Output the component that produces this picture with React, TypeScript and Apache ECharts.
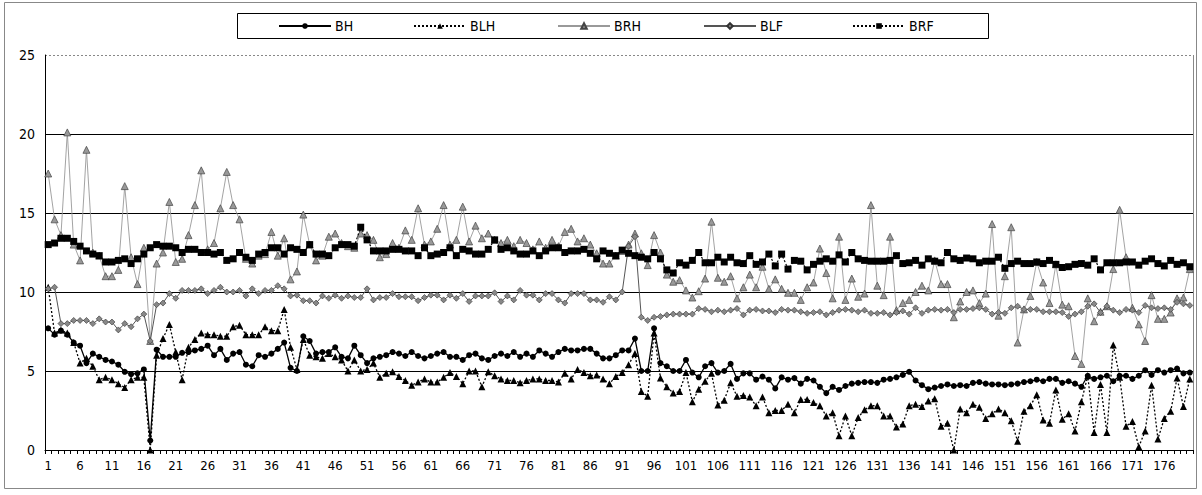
import React, { useEffect, useRef } from "react";
import * as echarts from "echarts";

const categories: string[] = Array.from({ length: 180 }, (_, i) => String(i + 1));
const yTicks = [0, 5, 10, 15, 20, 25];
const seriesNames = ["BH", "BLH", "BRH", "BLF", "BRF"];

const BH = [
  7.7, 7.3, 7.55, 7.3, 6.8, 6.6, 5.5, 6.1, 5.9, 5.7, 5.6, 5.4, 4.95, 4.8, 4.85, 5.1, 0.6, 6.35, 5.9, 5.9,
  5.9, 6.15, 6.2, 6.3, 6.4, 6.6, 6.0, 6.4, 5.7, 6.1, 6.2,
  5.4, 5.3, 6.0, 5.9, 6.1, 6.4, 6.8, 5.2, 5.0, 7.2, 6.9, 6.1, 6.2, 6.2, 6.5, 5.9, 5.8, 6.6, 6.0,
  5.5, 5.8, 5.9, 6.0, 6.2, 6.1, 5.95, 6.2, 5.95, 5.8, 5.95, 6.1, 6.2, 5.9, 5.9, 5.7, 6.0,
  6.1, 5.8, 5.7, 5.95, 6.1, 5.95, 6.2, 5.9, 6.1, 5.9, 6.3, 6.1, 5.9, 6.2, 6.4, 6.3, 6.3, 6.4, 6.4,
  6.1, 5.8, 5.8, 6.0, 6.3, 6.3, 7.05, 5.0, 5.0, 7.7, 5.5, 5.3, 5.0, 5.0, 5.7,
  4.9, 4.6, 5.3, 5.5, 4.9, 5.0, 5.45, 4.5, 4.85, 4.85, 4.45, 4.65, 4.45, 3.9, 4.6, 4.45, 4.55, 4.2,
  4.5, 4.4, 4.0, 3.6, 4.0, 3.8, 4.05, 4.2, 4.25, 4.3, 4.3, 4.25, 4.45, 4.5, 4.6, 4.75, 4.95, 4.4,
  4.1, 3.85, 3.95, 4.05, 4.15, 4.05, 4.1, 4.05, 4.25, 4.3, 4.2, 4.15, 4.15, 4.1, 4.15, 4.2, 4.3,
  4.35, 4.45, 4.35, 4.5, 4.5, 4.25, 4.35, 4.2, 4.0, 4.7, 4.5, 4.6, 4.7, 4.35, 4.7, 4.7, 4.5,
  4.7, 5.05, 4.75, 5.05, 4.9, 5.05, 5.15, 4.85, 4.9,
];

const BLH = [
  10.3, 7.4, 7.6, 7.4, 6.8, 5.5, 5.8, 5.3, 4.45, 4.6, 4.45, 4.2, 3.95, 4.45, 4.6, 4.6, 0.0, 6.0, 7.05,
  7.95, 6.2, 4.45, 6.5, 7.0, 7.4, 7.3, 7.3, 7.2, 7.2, 7.8, 7.9,
  7.3, 7.3, 7.3, 7.8, 7.55, 7.55, 8.9, 6.5, 5.1, 7.0, 6.0, 5.9, 5.8, 6.1, 5.9, 5.7, 5.0, 5.7, 5.0,
  5.1, 5.5, 4.6, 4.85, 4.95, 4.65, 4.4, 4.1, 4.3, 4.5, 4.3, 4.3, 4.6, 4.9, 4.65, 4.2, 5.0,
  5.0, 4.0, 4.95, 4.7, 4.5, 4.4, 4.4, 4.25, 4.4, 4.5, 4.5, 4.4, 4.4, 4.3, 4.85, 4.5, 5.1, 4.9, 4.7,
  4.75, 4.5, 4.2, 4.65, 4.9, 5.4, 6.1, 3.7, 3.4, 7.4, 4.55, 4.0, 3.6, 3.7, 4.9,
  3.05, 3.85, 4.35, 4.85, 2.85, 3.15, 4.25, 3.4, 3.45, 3.35, 2.8, 3.35, 2.35, 2.5, 2.5, 2.9, 2.35, 3.2,
  3.2, 3.0, 2.8, 2.15, 2.35, 0.9, 2.15, 0.9, 2.05, 2.55, 2.8, 2.8, 2.15, 2.15, 1.45, 1.65, 2.8, 2.9,
  2.75, 3.1, 3.25, 1.5, 1.7, 0.0, 2.6, 2.35, 2.9, 2.7, 2.0, 2.3, 2.6, 2.35, 1.85, 0.55, 2.45, 2.8,
  3.5, 1.9, 1.7, 3.8, 1.95, 2.3, 1.2, 3.05, 4.7, 1.1, 4.15, 1.1, 6.65, 4.6, 1.5, 1.8, 0.2, 1.2,
  4.1, 0.7, 2.0, 2.45, 4.55, 2.75, 4.5,
];

const BRH = [
  17.5, 14.6, 13.6, 20.1, 13.0, 12.0, 19.0, 12.5, 12.3, 11.0, 11.0, 11.4, 16.7, 12.2, 10.5, 12.8, 6.9,
  11.8, 12.5, 15.7, 11.9, 12.1, 13.6, 15.5, 17.7, 12.7, 13.1, 15.3, 17.6, 15.5, 14.6,
  12.1, 11.8, 12.3, 12.4, 13.8, 12.3, 13.4, 10.8, 11.3, 14.9, 13.0, 12.0, 12.3, 13.5, 13.7, 13.1, 12.9,
  12.8, 13.7, 13.6, 13.3, 12.2, 12.4, 13.1, 12.8, 13.9, 13.3, 15.3, 13.0, 13.2, 14.0, 15.5, 13.0, 13.3,
  15.4, 13.2,
  14.2, 13.4, 13.7, 13.3, 13.1, 13.3, 12.9, 13.3, 13.1, 12.7, 13.2, 12.8, 13.3, 12.9, 13.8, 14.0, 13.2,
  13.4, 13.0, 12.45, 11.8, 11.8, 12.3, 12.6, 13.0, 13.7, 12.45, 11.7, 13.6, 12.5, 11.1, 10.65, 10.75, 10.1,
  9.65, 10.05, 10.85, 14.45, 10.9, 10.65, 11.0, 9.6, 10.3, 11.1, 10.3, 11.6, 10.2, 10.8, 10.2, 9.95, 9.95,
  9.5, 10.3, 10.6, 12.75, 11.2, 9.6, 13.5, 9.5, 10.85, 9.7, 9.9, 15.5, 10.4, 9.8, 13.5, 8.85, 9.3, 9.5,
  10.0,
  10.4, 10.1, 12.0, 10.5, 10.5, 8.4, 9.4, 10.0, 10.1, 9.3, 9.9, 14.3, 8.5, 11.0, 14.1, 6.8, 8.9, 9.75,
  11.9, 10.6, 9.3, 11.75, 9.2, 9.1, 5.95, 5.45, 9.6, 8.15, 8.75, 9.1, 11.45, 15.2, 12.2, 9.0, 7.95, 6.9,
  9.8, 8.3, 8.3, 8.7, 9.6, 9.65, 11.45,
];

const BLF = [
  10.2, 10.3, 8.0, 8.0, 8.2, 8.2, 8.2, 8.0, 8.3, 8.1, 8.1, 7.6, 8.0, 7.8, 8.3, 8.6, 6.9, 9.2, 9.3, 9.9,
  9.6, 10.1, 10.1, 10.1, 10.2, 9.9, 10.1, 10.3, 10.0, 10.0, 10.1,
  9.75, 10.2, 9.9, 10.1, 10.1, 10.4, 10.2, 9.75, 9.8, 9.45, 9.45, 9.3, 9.75, 9.6, 9.8, 9.6, 9.75, 9.65,
  9.65, 10.2, 9.5, 9.65, 9.65, 9.9, 9.7, 9.7, 9.7, 9.45, 9.65, 9.8, 9.8, 9.5, 9.8, 9.6, 9.9, 9.4,
  9.75, 9.75, 9.75, 9.95, 9.4, 9.75, 9.5, 10.1, 9.8, 9.8, 9.5, 9.9, 9.9, 9.5, 9.3, 9.9, 9.9, 9.9, 9.5,
  9.5, 9.35, 9.7, 9.5, 10.0, 12.9, 13.5, 8.4, 8.2, 8.4, 8.45, 8.55, 8.6, 8.6, 8.6,
  8.6, 8.95, 8.9, 8.75, 8.85, 8.75, 8.85, 8.95, 8.55, 8.85, 8.9, 8.8, 8.8, 8.7, 8.9, 8.85, 8.85, 8.75,
  8.65, 8.7, 8.75, 8.55, 8.7, 8.85, 8.9, 8.85, 8.75, 8.85, 8.65, 8.65, 8.7, 8.55, 8.7, 8.8, 8.6, 9.0,
  8.65, 8.85, 8.9, 8.85, 8.9, 8.7, 8.9, 8.9, 8.95, 9.0, 8.9, 8.6, 8.7, 8.65, 9.0, 9.1, 8.9, 8.9, 8.9,
  8.75, 8.75, 8.75, 8.7, 8.45, 8.6, 8.75, 9.1, 9.25, 8.7, 9.1, 8.85, 8.7, 8.9, 8.85, 8.7, 9.15, 9.0,
  8.95, 9.0, 8.9, 9.35, 9.25, 9.15,
];

const BRF = [
  13.0, 13.1, 13.4, 13.4, 13.2, 12.9, 12.6, 12.4, 12.3, 11.9, 11.9, 12.0, 12.1, 11.8, 12.1, 12.4, 12.8,
  13.0, 12.9, 12.9, 12.8, 12.5, 12.7, 12.7, 12.5, 12.5, 12.4, 12.5, 12.0, 12.1, 12.5,
  12.2, 12.0, 12.4, 12.5, 12.8, 12.8, 12.4, 12.8, 12.7, 12.5, 13.0, 12.4, 12.4, 12.3, 12.8, 13.0, 13.0,
  12.9, 14.1, 13.3, 12.6, 12.6, 12.6, 12.7, 12.7, 12.6, 12.6, 12.3, 12.8, 12.3, 12.4, 12.5, 12.8, 12.3,
  12.7, 12.6,
  12.4, 12.4, 12.7, 13.3, 12.7, 12.8, 12.6, 12.4, 12.4, 12.6, 12.3, 12.6, 12.8, 12.8, 12.5, 12.6, 12.6,
  12.7, 12.45, 12.1, 12.6, 12.45, 12.3, 12.65, 12.45, 12.3, 12.2, 12.1, 12.5, 12.1, 11.4, 11.2, 11.85, 11.7,
  12.0, 12.5, 11.85, 11.85, 12.2, 11.9, 12.2, 11.85, 11.8, 12.3, 11.75, 11.9, 12.4, 11.65, 12.4, 11.45,
  12.0, 11.95, 11.4, 11.75, 11.95, 12.1, 11.95, 12.35, 11.9, 12.5, 12.1, 12.0, 11.95, 11.95, 11.95, 12.0,
  12.3, 11.8, 11.85, 12.0,
  11.7, 12.1, 11.95, 11.85, 12.5, 12.1, 12.0, 12.15, 12.1, 11.85, 11.95, 11.95, 12.2, 11.5, 11.8,
  11.95, 11.8, 11.8, 11.9, 11.8, 12.0, 11.75, 11.55, 11.6, 11.75, 11.8, 11.7, 12.1, 11.4, 11.85,
  11.85, 11.85, 11.9, 11.9, 11.7, 11.95, 12.1, 11.8, 11.65, 12.0, 11.75, 11.85, 11.6,
];

const FONT = "'Liberation Sans Narrow', 'DejaVu Sans Condensed', 'Liberation Sans', sans-serif";

export default function App() {
  const ref = useRef<HTMLDivElement>(null);

  useEffect(() => {
    if (!ref.current) return;
    const chart = echarts.init(ref.current, null, { renderer: "svg" });

    const legendLefts = [278, 413, 557, 703, 852];
    const legends = seriesNames.map((name, i) => ({
      data: [name],
      left: legendLefts[i],
      top: 19,
      padding: 0,
      itemWidth: 52,
      itemHeight: 7,
      itemGap: 0,
      textStyle: { fontFamily: FONT, fontSize: 14, color: "#000", padding: [0, 0, 0, -1] },
    }));

    chart.setOption({
      animation: false,
      backgroundColor: "#fff",
      legend: legends,
      grid: { left: 45, right: 9, top: 55, bottom: 45, outerBoundsMode: "none" },
      xAxis: {
        type: "category",
        data: categories,
        boundaryGap: true,
        axisLine: { lineStyle: { color: "#000", width: 1 } },
        axisTick: { show: true, interval: 0, length: 4, lineStyle: { color: "#000" } },
        axisLabel: { interval: 4, margin: 9, fontFamily: FONT, fontSize: 13, color: "#000" },
        splitLine: { show: false },
      },
      yAxis: {
        type: "value",
        min: yTicks[0],
        max: yTicks[yTicks.length - 1],
        interval: 5,
        axisLine: { show: true, lineStyle: { color: "#000", width: 1 } },
        axisTick: { show: false },
        axisLabel: { margin: 10, fontFamily: FONT, fontSize: 14, color: "#000" },
        splitLine: {
          show: true,
          lineStyle: { color: ["#000", "#000", "#000", "#000", "#000", "rgba(0,0,0,0)"], width: 1 },
        },
      },
      graphic: [
        {
          type: "rect",
          shape: { x: 4.5, y: 2.5, width: 1192, height: 486 },
          style: { fill: "none", stroke: "#888", lineWidth: 1 },
          silent: true,
        },
        {
          type: "rect",
          shape: { x: 237.5, y: 13.5, width: 751, height: 25 },
          style: { fill: "none", stroke: "#000", lineWidth: 1 },
          silent: true,
        },
        {
          type: "line",
          shape: { x1: 45, y1: 55.5, x2: 1193, y2: 55.5 },
          style: { stroke: "#888", lineWidth: 1, lineDash: [2, 2] },
          silent: true,
        },
        {
          type: "line",
          shape: { x1: 1193.5, y1: 55, x2: 1193.5, y2: 450 },
          style: { stroke: "#888", lineWidth: 1 },
          silent: true,
        },
      ],
      series: [
        {
          name: "BH",
          type: "line",
          data: BH,
          symbol: "circle",
          symbolSize: 6,
          showAllSymbol: true,
          itemStyle: { color: "#000" },
          lineStyle: { color: "#000", width: 1.3, type: "solid" },
          z: 4,
        },
        {
          name: "BLH",
          type: "line",
          data: BLH,
          symbol: "triangle",
          symbolSize: 7,
          showAllSymbol: true,
          itemStyle: { color: "#000" },
          lineStyle: { color: "#000", width: 1.3, type: [2, 2] },
          z: 3,
        },
        {
          name: "BRH",
          type: "line",
          data: BRH,
          symbol: "triangle",
          symbolSize: 7,
          showAllSymbol: true,
          itemStyle: { color: "#999", borderColor: "#444", borderWidth: 0.7 },
          lineStyle: { color: "#999", width: 0.9, type: "solid" },
          z: 2,
        },
        {
          name: "BLF",
          type: "line",
          data: BLF,
          symbol: "diamond",
          symbolSize: 6,
          showAllSymbol: true,
          itemStyle: { color: "#888", borderColor: "#333", borderWidth: 0.6 },
          lineStyle: { color: "#555", width: 1, type: "solid" },
          z: 3,
        },
        {
          name: "BRF",
          type: "line",
          data: BRF,
          symbol: "rect",
          symbolSize: 7,
          showAllSymbol: true,
          itemStyle: { color: "#000" },
          lineStyle: { color: "#000", width: 1.2, type: [2, 2] },
          z: 5,
        },
      ],
    });

    return () => chart.dispose();
  }, []);

  return (
    <div
      ref={ref}
      style={{ position: "fixed", left: 0, top: 0, width: 1202, height: 495, background: "#fff" }}
    />
  );
}
